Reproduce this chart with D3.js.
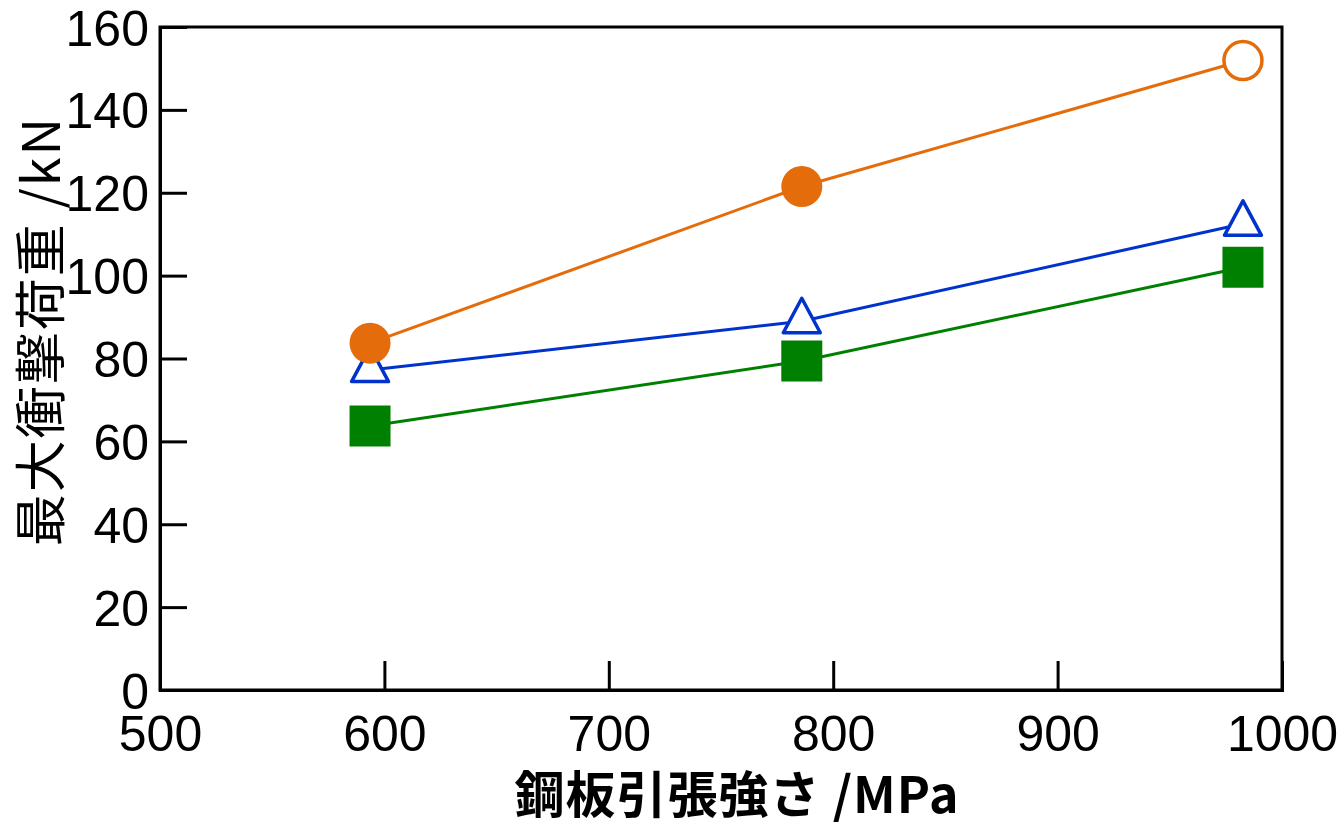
<!DOCTYPE html>
<html>
<head>
<meta charset="utf-8">
<script src="https://cdn.jsdelivr.net/npm/d3@7"></script>
<style>
  body { margin: 0; background: #fff; }
  svg { display: block; }
</style>
</head>
<body>
<svg id="chart" width="1343" height="825"></svg>
<script>
// Steel sheet tensile strength (MPa) at each test grade
const strength = [593.6, 786, 982.6];

// Maximum impact load (kN) for each series
const seriesCircle = [83.7, 121.5, 151.9];
const seriesTriangle = [77.2, 89, 112.5];
const seriesSquare = [63.7, 79.4, 102];

// Whether each circle marker is filled
const circleFilled = [true, true, false];

const xTicks = [500, 600, 700, 800, 900, 1000];
const yTicks = [0, 20, 40, 60, 80, 100, 120, 140, 160];

const W = 1343, H = 825;
const margin = { left: 160, right: 61, top: 27, bottom: 135 };
const svg = d3.select("#chart");

const x = d3.scaleLinear().domain([500, 1000]).range([margin.left, W - margin.right]);
const y = d3.scaleLinear().domain([0, 160]).range([H - margin.bottom, margin.top]);

const font = "'Liberation Sans', Arial, sans-serif";
const cjk = "'Noto Sans CJK JP', 'Liberation Sans', sans-serif";

// Frame
svg.append("rect")
  .attr("x", x(500)).attr("y", y(160))
  .attr("width", x(1000) - x(500)).attr("height", y(0) - y(160))
  .attr("fill", "none").attr("stroke", "#000").attr("stroke-width", 3);

// Axes with inward ticks
const xAxis = svg.append("g")
  .attr("transform", `translate(0,${y(0)})`)
  .call(d3.axisBottom(x).tickValues(xTicks).tickSize(-29).tickFormat(d3.format("d")));
const yAxis = svg.append("g")
  .attr("transform", `translate(${x(500)},0)`)
  .call(d3.axisLeft(y).tickValues(yTicks).tickSize(-27).tickFormat(d3.format("d")));

[xAxis, yAxis].forEach(g => {
  g.select(".domain").attr("stroke", "#000").attr("stroke-width", 3);
  g.selectAll(".tick line").attr("stroke", "#000").attr("stroke-width", 3);
  g.selectAll(".tick text")
    .attr("fill", "#000")
    .style("font-family", font)
    .style("font-size", "50px");
});
yAxis.selectAll(".tick text").attr("dy", "0.36em").attr("x", -11);
xAxis.selectAll(".tick text").attr("dy", "0").attr("y", 61);
// Hide ticks at the frame edges
xAxis.selectAll(".tick line").filter(d => d === 500 || d === 1000).remove();
yAxis.selectAll(".tick line").filter(d => d === 0 || d === 160).remove();

// Series lines
const line = d3.line().x(d => x(d[0])).y(d => y(d[1]));
const series = [
  { values: seriesCircle, color: "#e46c0a" },
  { values: seriesTriangle, color: "#0033cc" },
  { values: seriesSquare, color: "#008000" }
];
series.forEach(s => {
  svg.append("path")
    .datum(strength.map((v, i) => [v, s.values[i]]))
    .attr("d", line)
    .attr("fill", "none")
    .attr("stroke", s.color)
    .attr("stroke-width", 3);
});

// Square markers
svg.append("g").selectAll("path")
  .data(strength.map((v, i) => [v, seriesSquare[i]]))
  .join("path")
  .attr("transform", d => `translate(${x(d[0])},${y(d[1])})`)
  .attr("d", "M-20.5,-20.5H20.5V20.5H-20.5Z")
  .attr("fill", "#008000");

// Triangle markers
svg.append("g").selectAll("path")
  .data(strength.map((v, i) => [v, seriesTriangle[i]]))
  .join("path")
  .attr("transform", d => `translate(${x(d[0])},${y(d[1])})`)
  .attr("d", "M0,-23L18.5,11.5H-18.5Z")
  .attr("fill", "#fff")
  .attr("stroke", "#0033cc")
  .attr("stroke-width", 3.5)
  .attr("stroke-linejoin", "round");

// Circle markers
svg.append("g").selectAll("circle")
  .data(strength.map((v, i) => [v, seriesCircle[i], circleFilled[i]]))
  .join("circle")
  .attr("cx", d => x(d[0]))
  .attr("cy", d => y(d[1]))
  .attr("r", d => d[2] ? 20.5 : 19)
  .attr("fill", d => d[2] ? "#e46c0a" : "#fff")
  .attr("stroke", "#e46c0a")
  .attr("stroke-width", d => d[2] ? 0 : 3.5);

// Axis titles
svg.append("text")
  .attr("x", 737).attr("y", 813)
  .attr("text-anchor", "middle")
  .style("font-family", cjk)
  .style("font-weight", "bold")
  .style("font-size", "50px")
  .style("letter-spacing", "1px")
  .text("鋼板引張強さ /MPa");

svg.append("text")
  .attr("transform", "translate(60,331) rotate(-90)")
  .attr("text-anchor", "middle")
  .style("font-family", cjk)
  .style("font-size", "52px")
  .style("letter-spacing", "2px")
  .text("最大衝撃荷重 /kN");
</script>
</body>
</html>
